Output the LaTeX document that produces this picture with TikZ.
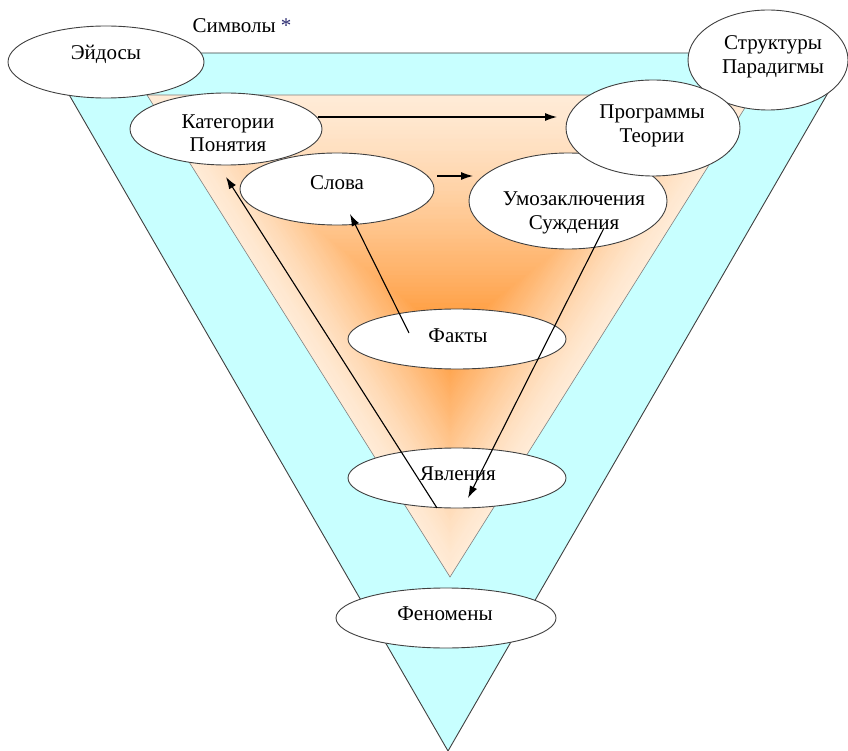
\documentclass[tikz,border=0pt]{standalone}
\usepackage{fontspec}
\setmainfont{Liberation Serif}
\newfontfamily\tnr{Liberation Serif}
\usetikzlibrary{shapes.geometric,arrows.meta,calc}
\definecolor{cyanfill}{HTML}{C8FFFF}
\definecolor{peach}{HTML}{FFEBD6}
\definecolor{orangec}{HTML}{FF9530}
\definecolor{edgegray}{HTML}{404040}
\definecolor{navy}{HTML}{2A2A70}
\begin{document}
\begin{tikzpicture}[x=1pt,y=-1pt,
  oval/.style={ellipse,draw=edgegray,line width=0.9pt,fill=white,inner sep=0pt},
  lbl/.style={font=\tnr\fontsize{21}{23.5}\selectfont,align=center,inner sep=0pt,text=black},
  conn/.style={draw=black,line width=1.1pt},
  arr/.style={conn,-{Latex[length=12pt,width=8pt]}}]
\useasboundingbox (0,0) rectangle (848,751);
% outer triangle
\coordinate (oA) at (45,53);
\coordinate (oB) at (851,53);
\coordinate (oC) at (448,751);
\fill[cyanfill] (oA) -- (oB) -- (oC) -- cycle;
\draw[edgegray,line width=0.9pt] (oA) -- (oB) -- (oC) -- cycle;
% inner triangle with path gradient
\coordinate (iA) at (147,95);
\coordinate (iB) at (753,95);
\coordinate (iC) at (450,577);
\coordinate (P) at (450,335);
\foreach \i in {0,...,60}{
  \pgfmathsetmacro\s{1-\i/60}
  \pgfmathtruncatemacro\m{100*(\i/60)^1.3}
  \fill[orangec!\m!peach] ($(P)!\s!(iA)$) -- ($(P)!\s!(iB)$) -- ($(P)!\s!(iC)$) -- cycle;
}
\draw[gray,line width=0.6pt] (iA) -- (iB) -- (iC) -- cycle;
% ellipses
\node[oval,minimum width=196pt,minimum height=72pt] (eid) at (106,62) {};
\node[oval,minimum width=192pt,minimum height=72pt] (kat) at (226,129) {};
\node[oval,minimum width=160pt,minimum height=100pt] (str) at (768,60) {};
\node[oval,minimum width=198pt,minimum height=96pt] (umoz) at (568,201) {};
\node[oval,minimum width=174pt,minimum height=96pt] (prog) at (653,128) {};
\node[oval,minimum width=194pt,minimum height=72pt] (slova) at (337,189) {};
\node[oval,minimum width=218pt,minimum height=60pt] (fakty) at (457,339) {};
\node[oval,minimum width=218pt,minimum height=60pt] (yavl) at (457,478) {};
\node[oval,minimum width=220pt,minimum height=60pt] (fenom) at (446,618) {};
% texts
\node[lbl] (teid) at (106,54) {Эйдосы};
\node[lbl] (tkat) at (228,133) {Категории\\Понятия};
\node[lbl] (tstr) at (773,57) {Структуры\\Парадигмы};
\node[lbl] (tprog) at (652,126) {Программы\\Теории};
\node[lbl] (tumoz) at (574,213) {Умозаключения\\Суждения};
\node[lbl] (tslova) at (337,183) {Слова};
\node[lbl] (tfakty) at (458,336) {Факты};
\node[lbl] (tyavl) at (458,474) {Явления};
\node[lbl] (tfenom) at (445,614) {Феномены};
\node[lbl] (tsym) at (242,26) {Символы \textcolor{navy}{*}};
% connector end points
\coordinate (a1s) at (318,117);
\coordinate (a1e) at (557,117);
\coordinate (a2s) at (437,176);
\coordinate (a2e) at (473,176);
\coordinate (a3s) at (409,333);
\coordinate (a3e) at (350,214);
\coordinate (a4s) at (437,508);
\coordinate (a4e) at (226,177);
\coordinate (a5s) at (604,228);
\coordinate (a5e) at (468,498);
\draw[arr] (a1s) -- (a1e);
\draw[arr] (a2s) -- (a2e);
\draw[arr] (a3s) -- (a3e);
\draw[arr] (a4s) -- (a4e);
\draw[arr] (a5s) -- (a5e);
\end{tikzpicture}
\end{document}
